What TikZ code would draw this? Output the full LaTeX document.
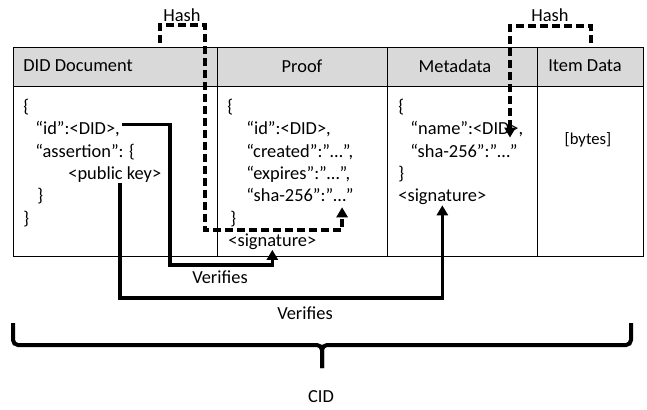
\documentclass[tikz,border=0pt]{standalone}
\usepackage{fontspec}
\setmainfont{Carlito}
\usetikzlibrary{arrows.meta}
\definecolor{headgray}{RGB}{217,217,217}

\begin{document}
\begin{tikzpicture}[x=0.5pt,y=-0.5pt,
    line/.style={anchor=base west, inner sep=0pt, font=\fontsize{9.2}{11}\selectfont},
    title/.style={inner sep=0pt, font=\fontsize{9.2}{11}\selectfont},
    verify/.style={line width=1.6pt, -{Triangle[width=5.5pt,length=5pt]}},
    hash/.style={verify, dash pattern=on 4pt off 2pt},
    brace/.style={line width=2pt, rounded corners=2.5pt}]
        \useasboundingbox (0,0) rectangle (647,409);

        % the table
        \filldraw[fill=headgray, draw=black, line width=0.5pt] (13,47) rectangle (643,86);
        \draw[line width=0.5pt] (13,47) rectangle (643,256);
        \draw[line width=0.5pt] (217,47) -- (217,256);
        \draw[line width=0.5pt] (387,47) -- (387,256);
        \draw[line width=0.5pt] (537,47) -- (537,256);

        % the column titles
        \node[title, anchor=west] (tdid) at (23,66) {DID Document};
        \node[title] (tproof) at (302,66) {Proof};
        \node[title] (tmeta) at (455,66) {Metadata};
        \node[title] (titem) at (585,66) {Item Data};

        % the lines in the cells (one node per line, so the arrows can find them)
        \node[line] (d0) at (23,112.5) {\{};
        \node[line] (d1) at (35,134.8) {“id”:<DID>,};
        \node[line] (d2) at (35,157.1) {“assertion”: \{};
        \node[line] (d3) at (68,179.4) {<public key>};
        \node[line] (d4) at (37,201.7) {\}};
        \node[line] (d5) at (23,224) {\}};

        \node[line] (p0) at (227,112.5) {\{};
        \node[line] (p1) at (246,134.8) {“id”:<DID>,};
        \node[line] (p2) at (246,157.1) {“created”:”…”,};
        \node[line] (p3) at (246,179.4) {“expires”:”…”,};
        \node[line] (p4) at (246,201.7) {“sha-256”:”…”};
        \node[line] (p5) at (230,224) {\}};
        \node[line] (p6) at (228,246.3) {<signature>};

        \node[line] (m0) at (398,112.5) {\{};
        \node[line] (m1) at (410,134.8) {“name”:<DID>,};
        \node[line] (m2) at (410,157.1) {“sha-256”:”…”};
        \node[line] (m3) at (398,179.4) {\}};
        \node[line] (m4) at (398,201.7) {<signature>};

        \node[title, font=\fontsize{8.3}{10}\selectfont] (b0) at (588,140) {[bytes]};

        % the other texts
        \node[title] (hash1) at (182,15) {Hash};
        \node[title] (hash2) at (550,15) {Hash};
        \node[title] (ver1) at (220,277) {Verifies};
        \node[title] (ver2) at (305,313) {Verifies};
        \node[title] (cid) at (321,397) {CID};

        % the bends of the arrows
        \coordinate (v1) at (170,265);
        \coordinate (v2) at (120,298);
        \coordinate (hA) at (160,43);
        \coordinate (hB) at (205,25);
        \coordinate (hC) at (205,230);
        \coordinate (hD) at (591,43);
        \coordinate (hE) at (510,26);

        % draw the arrows
        \draw[verify] ([xshift=1pt,yshift=2.5pt]d1.east) -| (v1) -| (p6.south);
        \draw[verify] (d3.south -| v2) -- (v2) -| (m4.south);
        \draw[hash] (hA) |- (hB) -- (hC) -| ([xshift=-6pt,yshift=-2.5pt]p4.south east);
        \draw[hash] (hD) |- (hE) -- (hE |- m1.south);

        % the brace
        \draw[brace] (13,323) |- (322,345) -- (322,368);
        \draw[brace] (631,323) |- (322,345) -- (322,368);

    \end{tikzpicture}
\end{document}
